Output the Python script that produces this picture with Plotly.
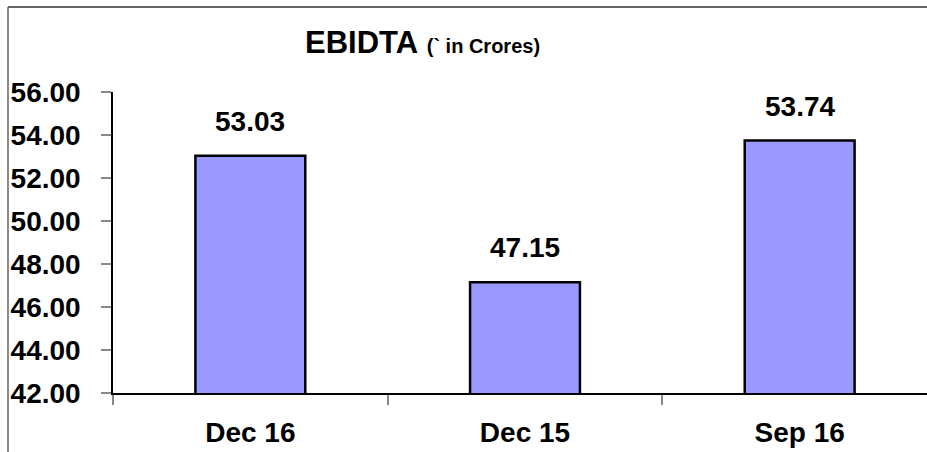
import plotly.graph_objects as go

categories = ["Dec 16", "Dec 15", "Sep 16"]
values = [53.03, 47.15, 53.74]
y_ticks = [42, 44, 46, 48, 50, 52, 54, 56]
y_tick_labels = ["42.00", "44.00", "46.00", "48.00", "50.00", "52.00", "54.00", "56.00"]
title_main = "EBIDTA"
title_sub = "(` in Crores)"

FONT = "Liberation Sans, Arial, sans-serif"
W, H = 927, 452
L, R, T, B = 113, 0, 92, 59
pw = W - L - R
ph = H - T - B

def px_x(px):
    return (px - L) / pw

def px_y(py):
    return (H - B - py) / ph

fig = go.Figure()
fig.add_trace(go.Bar(
    x=categories, y=values, width=0.4,
    marker=dict(color="#9999FF", line=dict(color="black", width=2.5)),
    hoverinfo="skip",
))

for c, v in zip(categories, values):
    fig.add_annotation(x=c, y=v, xref="x", yref="y", text=f"<b>{v:.2f}</b>",
                       showarrow=False, yanchor="bottom", yshift=17,
                       font=dict(family=FONT, size=28, color="black"))

fig.add_annotation(xref="paper", yref="paper", x=px_x(303), y=px_y(43),
                   xanchor="left", yanchor="middle", showarrow=False,
                   text=f"<b>{title_main}</b> <b><span style='font-size:20px'>{title_sub}</span></b>",
                   font=dict(family=FONT, size=31, color="black"))

# outer frame (left and top borders)
fig.add_shape(type="line", xref="paper", yref="paper",
              x0=px_x(8), x1=px_x(8), y0=px_y(7), y1=px_y(452),
              line=dict(color="#666666", width=1.5))
fig.add_shape(type="line", xref="paper", yref="paper",
              x0=px_x(8), x1=px_x(927), y0=px_y(7), y1=px_y(7),
              line=dict(color="#666666", width=2))

fig.update_layout(
    width=W, height=H,
    margin=dict(l=L, r=R, t=T, b=B, autoexpand=False),
    paper_bgcolor="white", plot_bgcolor="white",
    showlegend=False,
    font=dict(family=FONT, size=28, color="black"),
    xaxis=dict(
        type="category", range=[-0.5, 2.5 - 10 / 274.7],
        showline=True, linecolor="black", linewidth=1.5,
        ticks="outside", tickson="boundaries", ticklen=10, tickcolor="#888888",
        tickwidth=1.5, showgrid=False, zeroline=False, automargin=False,
        tickfont=dict(family=FONT, size=28, color="black"),
        ticklabelstandoff=14,
    ),
    yaxis=dict(
        range=[42, 56], tickvals=y_ticks, ticktext=[f"<b>{t}</b>" for t in y_tick_labels],
        showline=True, linecolor="black", linewidth=1.5,
        ticks="outside", ticklen=10, tickcolor="#888888", tickwidth=1.5,
        showgrid=False, zeroline=False, automargin=False,
        tickfont=dict(family=FONT, size=28, color="black"),
        ticklabelstandoff=15,
    ),
)
fig.update_xaxes(ticktext=[f"<b>{c}</b>" for c in categories], tickvals=categories)

fig.write_html("out.html", config={"displayModeBar": False},
               post_script=("document.documentElement.style.overflow='hidden';"
                            "document.body.style.margin='0';"
                            "document.body.style.overflow='hidden';"
                            "var gd=document.getElementById('{plot_id}');"
                            "gd.style.position='fixed';gd.style.left='0px';gd.style.top='0px';"))
